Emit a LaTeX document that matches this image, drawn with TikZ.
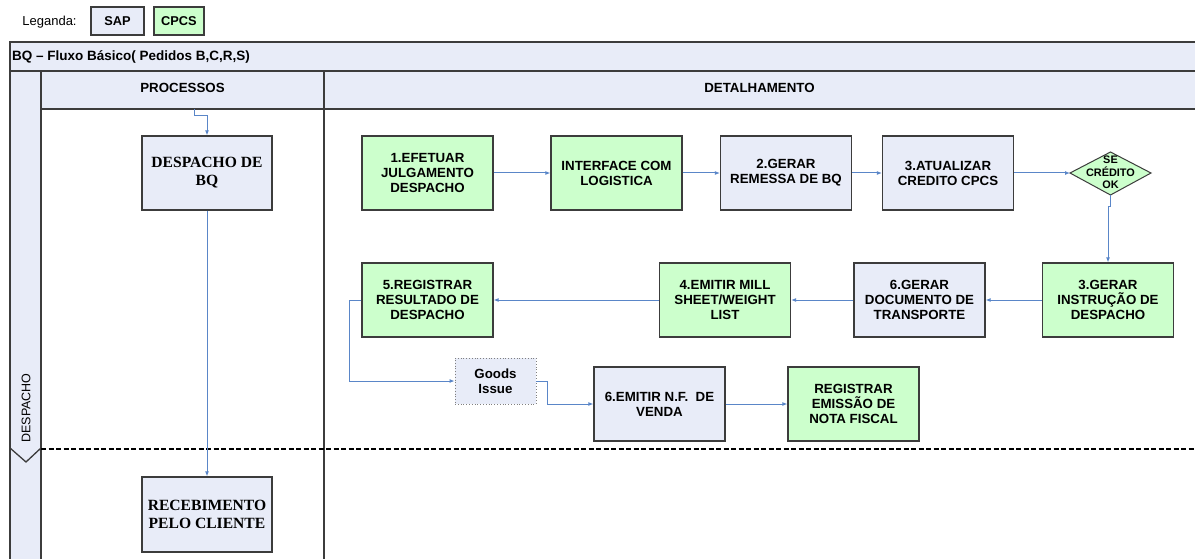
\documentclass[tikz,border=0pt]{standalone}
\usepackage{fontspec}
\setmainfont{Liberation Sans}
\newfontfamily\boxserif{Liberation Serif}
\usetikzlibrary{arrows.meta}
\definecolor{sapfill}{HTML}{E8ECF8}
\definecolor{cpcsfill}{HTML}{CCFFCC}
\definecolor{edge}{HTML}{3C3C3C}
\definecolor{flowc}{HTML}{5A86C8}
\begin{document}
\begin{tikzpicture}[x=1pt,y=-1pt,
  box/.style={draw=edge, line width=1.2pt, inner sep=0pt, align=center,
    minimum width=131pt, minimum height=74pt,
    font=\fontsize{13.3}{15}\selectfont\bfseries},
  sap/.style={box, fill=sapfill},
  cpcs/.style={box, fill=cpcsfill},
  proc/.style={sap, minimum width=130pt, font=\boxserif\fontsize{15.6}{18}\selectfont\bfseries},
  flow/.style={draw=flowc, line width=1pt, -{Latex[length=5pt,width=4pt]}},
  frameline/.style={draw=edge, line width=1.3pt},
  hdr/.style={font=\fontsize{13.3}{15}\selectfont\bfseries, inner sep=0pt}]

\useasboundingbox (0,0) rectangle (1195,559);
\fill[white] (0,0) rectangle (1195,559);

% legend
\node[font=\fontsize{13}{15}\selectfont, inner sep=0pt] (leg) at (49.5,22) {Leganda:};
\node[sap, minimum width=53pt, minimum height=28pt, font=\fontsize{12.8}{14}\selectfont\bfseries] (legsap) at (117.5,21) {SAP};
\node[cpcs, minimum width=50pt, minimum height=28pt, font=\fontsize{12.8}{14}\selectfont\bfseries] (legcpcs) at (179,21) {CPCS};

% pool frame and header bands
\fill[sapfill] (10,42) rectangle (1195,109);
\fill[sapfill] (10,71) rectangle (41,559);
\draw[frameline] (1195,42) -- (10,42) -- (10,559);
\draw[frameline] (10,71) -- (1195,71);
\draw[frameline] (41,109) -- (1195,109);
\draw[frameline] (41,71) -- (41,559);
\draw[frameline] (324,71) -- (324,559);

\node[hdr, font=\fontsize{13.5}{15}\selectfont\bfseries, anchor=west] (title) at (12,57) {BQ -- Fluxo Básico( Pedidos B,C,R,S)};
\node[hdr] (hproc) at (182.5,88) {PROCESSOS};
\node[hdr] (hdet) at (759.5,88) {DETALHAMENTO};

% lane label and separator
\node[font=\fontsize{12.5}{14}\selectfont, rotate=90, inner sep=0pt] (lane) at (26,408) {DESPACHO};
\draw[frameline] (10,448) -- (26,462) -- (41,448);
\draw[line width=2.2pt, dash pattern=on 5pt off 2.5pt] (41,449) -- (1195,449);

% process column
\node[proc] (p1) at (207,173) {DESPACHO DE\\BQ};
\node[proc, minimum height=75pt] (p2) at (207,514.5) {RECEBIMENTO\\PELO CLIENTE};
\coordinate (pin) at (194,109);
\draw[flow] (pin) -- ++(0,7) -| (p1.north);
\draw[flow] (p1.south) -- (p2.north);

% detail: first row
\node[cpcs] (b1) at (427.5,173) {1.EFETUAR\\JULGAMENTO\\DESPACHO};
\node[cpcs] (b2) at (616.5,173) {INTERFACE COM\\LOGISTICA};
\node[sap] (b3) at (786,173) {2.GERAR\\REMESSA DE BQ};
\node[sap] (b4) at (948,173) {3.ATUALIZAR\\CREDITO CPCS};
\coordinate (dL) at (1070,173);
\coordinate (dT) at (1110.5,152);
\coordinate (dR) at (1151,173);
\coordinate (dB) at (1110.5,195);
\fill[cpcsfill, draw=edge, line width=1pt] (dL) -- (dT) -- (dR) -- (dB) -- cycle;
\node[font=\fontsize{10.9}{12.5}\selectfont\bfseries, align=center, inner sep=0pt] (dtext) at (1110.5,172.5) {SE\\CRÉDITO\\OK};

\draw[flow] (b1.east) -- (b2.west);
\draw[flow] (b2.east) -- (b3.west);
\draw[flow] (b3.east) -- (b4.west);
\draw[flow] (b4.east) -- (dL);

% detail: second row
\node[cpcs] (c1) at (1108,300) {3.GERAR\\INSTRUÇÃO DE\\DESPACHO};
\node[sap] (c2) at (919.5,300) {6.GERAR\\DOCUMENTO DE\\TRANSPORTE};
\node[cpcs] (c3) at (725,300) {4.EMITIR MILL\\SHEET/WEIGHT\\LIST};
\node[cpcs] (c4) at (427.5,300) {5.REGISTRAR\\RESULTADO DE\\DESPACHO};

\draw[flow] (dB) -- ++(0,12) -| (c1.north);
\draw[flow] (c1.west) -- (c2.east);
\draw[flow] (c2.west) -- (c3.east);
\draw[flow] (c3.west) -- (c4.east);

% detail: third row
\node[box, fill=sapfill, draw=gray, line width=0.8pt, dotted, minimum width=81pt, minimum height=46pt] (gi) at (495.5,381) {Goods\\Issue};
\node[sap] (d1) at (659.5,404) {6.EMITIR N.F.~~DE\\VENDA};
\node[cpcs] (d2) at (853.5,404) {REGISTRAR\\EMISSÃO DE\\NOTA FISCAL};

\draw[flow] (c4.west) -- ++(-12,0) |- (gi.west);
\draw[flow] (gi.east) -- ++(11,0) |- (d1.west);
\draw[flow] (d1.east) -- (d2.west);

\end{tikzpicture}
\end{document}
